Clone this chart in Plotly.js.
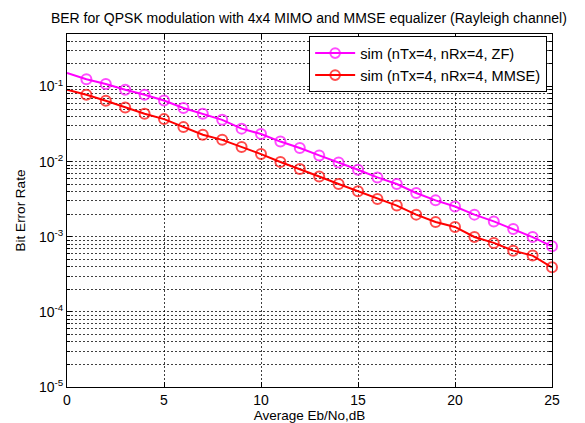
<!DOCTYPE html>
<html>
<head>
<meta charset="utf-8">
<script src="https://cdn.plot.ly/plotly-3.0.1.min.js"></script>
<style>html,body{margin:0;padding:0;background:#fff;}#chart{width:585px;height:423px;}</style>
</head>
<body>
<div id="chart"></div>
<script>
const ebno = [0,1,2,3,4,5,6,7,8,9,10,11,12,13,14,15,16,17,18,19,20,21,22,23,24,25];
const berZF = [0.151, 0.125, 0.108, 0.0904, 0.0777, 0.0652, 0.0517, 0.0434, 0.0360, 0.0275, 0.0233, 0.0185, 0.0152, 0.0121, 0.00975, 0.0078, 0.00617, 0.00503, 0.00382, 0.00305, 0.00253, 0.00197, 0.0016, 0.00127, 0.00099, 0.000745];
const berMMSE = [0.0904, 0.0777, 0.0646, 0.0526, 0.0434, 0.0368, 0.0288, 0.0228, 0.0195, 0.0157, 0.0126, 0.00989, 0.00798, 0.00635, 0.00503, 0.00402, 0.00318, 0.00260, 0.00197, 0.00157, 0.00135, 0.000993, 0.000828, 0.000653, 0.000561, 0.000392];
const seriesNames = ['sim (nTx=4, nRx=4, ZF)', 'sim (nTx=4, nRx=4, MMSE)'];
const xTicks = [0,5,10,15,20,25];
const yTickVals = [1e-5,1e-4,1e-3,1e-2,1e-1];
const yTickText = ['10<sup>-5</sup>','10<sup>-4</sup>','10<sup>-3</sup>','10<sup>-2</sup>','10<sup>-1</sup>'];

const FONT = '"Liberation Sans", Arial, Helvetica, sans-serif';
const markerSizes = ebno.map(v => v === 0 ? 0 : 10);
const yMinor = [];
for (let d = -5; d <= -1; d++) for (let m = 2; m <= 9; m++) { const v = m * Math.pow(10, d); if (v <= 0.5) yMinor.push(v); }

function trace(y, name, color) {
  return {
    x: ebno, y: y, name: name, type: 'scatter', mode: 'lines+markers',
    cliponaxis: false,
    line: {color: color, width: 2},
    marker: {symbol: 'circle-open', size: markerSizes, color: color, line: {color: color, width: 2}}
  };
}

const gridDash = '2px,2px';
const gridColor = 'rgba(0,0,0,0.75)';
const layout = {
  width: 585, height: 423,
  margin: {l: 67, r: 33, t: 34, b: 35.5},
  paper_bgcolor: '#fff', plot_bgcolor: '#fff',
  font: {family: FONT, size: 14, color: '#000'},
  title: {text: 'BER for QPSK modulation with 4x4 MIMO and MMSE equalizer (Rayleigh channel)',
          font: {family: FONT, size: 14, color: '#000'}, x: 0.528, xanchor: 'center', y: 0.957, yanchor: 'middle'},
  showlegend: true,
  legend: {x: 0.99, xanchor: 'right', y: 0.994, yanchor: 'top', bgcolor: '#fff', bordercolor: '#000', borderwidth: 1,
           font: {family: FONT, size: 14.6, color: '#000'}, tracegroupgap: 0, itemwidth: 40},
  xaxis: {
    range: [0, 25], tickmode: 'array', tickvals: xTicks, ticktext: xTicks.map(String),
    showline: true, linecolor: '#000', linewidth: 1, mirror: 'allticks',
    ticks: 'inside', ticklen: 5, tickcolor: '#000',
    showgrid: true, gridcolor: gridColor, gridwidth: 1, griddash: gridDash,
    zeroline: false,
    tickfont: {family: FONT, size: 14, color: '#000'},
    title: {text: 'Average Eb/No,dB', font: {family: FONT, size: 13.5, color: '#000'}, standoff: 7}
  },
  yaxis: {
    type: 'log', range: [-5, Math.log10(0.5)],
    tickmode: 'array', tickvals: yTickVals, ticktext: yTickText,
    showline: true, linecolor: '#000', linewidth: 1, mirror: 'allticks',
    ticks: 'inside', ticklen: 5, tickcolor: '#000',
    showgrid: true, gridcolor: gridColor, gridwidth: 1, griddash: gridDash,
    minor: {tickmode: 'array', tickvals: yMinor, ticks: 'inside', ticklen: 3, tickcolor: '#000',
            showgrid: true, gridcolor: gridColor, gridwidth: 1, griddash: gridDash},
    zeroline: false,
    tickfont: {family: FONT, size: 14, color: '#000'},
    title: {text: 'Bit Error Rate', font: {family: FONT, size: 13.5, color: '#000'}, standoff: 10}
  }
};

Plotly.newPlot('chart', [trace(berZF, seriesNames[0], '#ff00ff'), trace(berMMSE, seriesNames[1], '#ff0000')], layout,
  {displayModeBar: false, staticPlot: true});
</script>
</body>
</html>
